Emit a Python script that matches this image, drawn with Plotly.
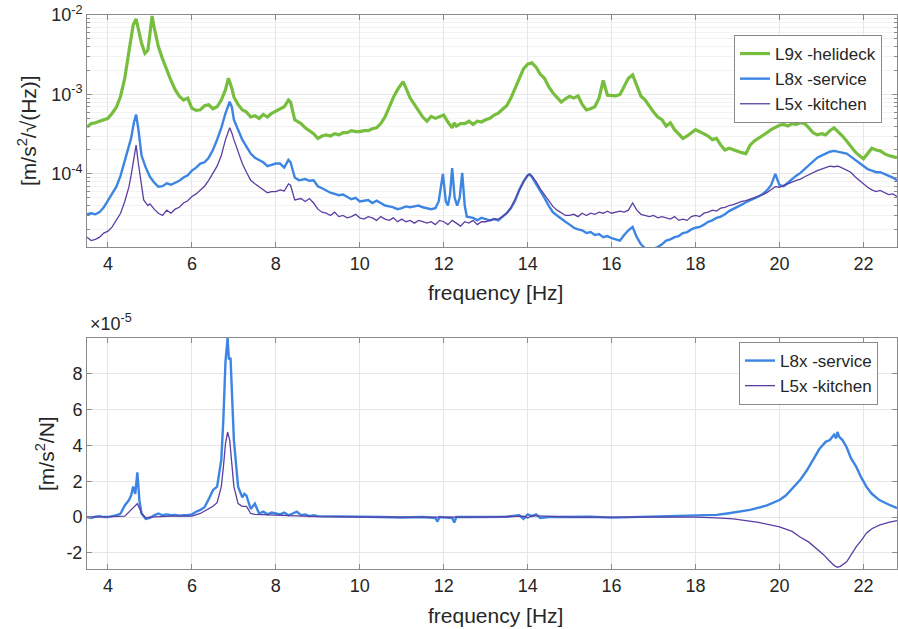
import plotly.graph_objects as go

# ---------------- top panel data (PSD), values in units noted ----------------
f_green = [3.5, 3.6, 3.7, 3.8, 3.9, 4.0, 4.1, 4.2, 4.3, 4.4,
           4.5, 4.55, 4.6, 4.67, 4.72, 4.8, 4.88, 4.95, 5.0, 5.05,
           5.1, 5.2, 5.3, 5.4, 5.5, 5.6, 5.7, 5.8, 5.9, 6.0,
           6.1, 6.2, 6.3, 6.4, 6.5, 6.6, 6.7, 6.8, 6.87, 6.95,
           7.0, 7.1, 7.2, 7.3, 7.4, 7.5, 7.6, 7.7, 7.8, 7.9,
           8.0, 8.1, 8.2, 8.3, 8.35, 8.45, 8.6, 8.7, 8.8, 8.9,
           9.0, 9.1, 9.2, 9.3, 9.4, 9.5, 9.6, 9.7, 9.8, 9.9,
           10.0, 10.1, 10.2, 10.3, 10.4, 10.5, 10.6, 10.7, 10.8, 10.9,
           11.03, 11.1, 11.2, 11.3, 11.4, 11.5, 11.6, 11.7, 11.8, 11.9,
           12.0, 12.1, 12.2, 12.25, 12.3, 12.4, 12.5, 12.6, 12.7, 12.8,
           12.9, 13.0, 13.1, 13.2, 13.3, 13.4, 13.5, 13.6, 13.7, 13.8,
           13.9, 14.0, 14.1, 14.2, 14.3, 14.4, 14.5, 14.6, 14.7, 14.8,
           14.9, 15.0, 15.1, 15.2, 15.3, 15.4, 15.5, 15.6, 15.7, 15.8,
           15.9, 16.0, 16.1, 16.2, 16.3, 16.4, 16.5, 16.6, 16.7, 16.8,
           16.9, 17.0, 17.1, 17.2, 17.3, 17.4, 17.5, 17.6, 17.7, 17.8,
           17.9, 18.0, 18.1, 18.2, 18.3, 18.4, 18.5, 18.6, 18.7, 18.8,
           18.9, 19.0, 19.1, 19.2, 19.3, 19.4, 19.5, 19.6, 19.7, 19.8,
           19.9, 20.0, 20.1, 20.2, 20.3, 20.4, 20.5, 20.6, 20.7, 20.8,
           20.9, 21.0, 21.1, 21.2, 21.3, 21.4, 21.5, 21.6, 21.7, 21.8,
           21.9, 22.0, 22.1, 22.2, 22.3, 22.4, 22.5, 22.6, 22.7, 22.8]
# L9x helideck, units 1e-4
v_green = [3.9, 4.3, 4.4, 4.6, 4.8, 5.0, 5.8, 6.9, 9.5, 16,
           35, 53, 75, 89, 70, 44, 33, 36, 58, 97,
           70, 40, 28, 20, 15, 11.5, 9.5, 8.5, 9.0, 6.7,
           6.3, 6.4, 7.2, 7.4, 6.6, 7.0, 8.5, 11.5, 16, 12,
           9.3, 7.5, 6.4, 6.0, 5.2, 5.4, 5.0, 5.6, 5.2, 5.8,
           6.2, 6.6, 7.0, 8.5, 8.0, 4.8, 4.3, 3.8, 3.5, 3.2,
           2.8, 3.0, 3.1, 3.0, 3.2, 3.1, 3.3, 3.3, 3.5, 3.4,
           3.4, 3.5, 3.5, 3.7, 3.8, 4.3, 5.2, 7.0, 9.2, 11.5,
           14.5, 12, 9.0, 7.5, 6.2, 5.2, 4.6, 5.3, 5.0, 5.2,
           5.5, 4.5, 3.8, 4.4, 4.0, 4.3, 4.3, 4.6, 4.2, 4.6,
           4.5, 4.8, 5.0, 5.5, 5.8, 6.5, 7.2, 9.0, 12, 16,
           21, 24, 25, 22, 18, 16, 12.5, 10.5, 9.0, 8.0,
           8.8, 9.5, 9.0, 9.6, 7.5, 6.4, 6.6, 7.0, 9.0, 15,
           9.8, 9.8, 9.6, 10, 13, 16, 17.6, 13, 9.5, 8.5,
           7.0, 6.0, 5.2, 4.8, 4.0, 4.4, 3.6, 3.2, 2.8, 3.0,
           3.3, 3.6, 3.4, 3.2, 3.0, 2.7, 2.8, 2.3, 2.0, 2.1,
           2.0, 1.9, 1.85, 1.8, 2.3, 2.6, 2.8, 3.0, 3.3, 3.6,
           3.8, 4.1, 4.2, 4.0, 4.3, 4.2, 4.4, 4.3, 3.8, 3.3,
           3.1, 3.2, 3.1, 3.5, 3.8, 3.4, 3.0, 2.6, 2.2, 1.9,
           1.7, 1.55, 1.8, 2.1, 2.0, 1.95, 1.8, 1.7, 1.65, 1.6]

f_blue = [3.5, 3.6, 3.7, 3.8, 3.9, 4.0, 4.1, 4.2, 4.3, 4.4,
          4.5, 4.55, 4.62, 4.67, 4.72, 4.8, 4.9, 5.0, 5.1, 5.2,
          5.3, 5.4, 5.5, 5.6, 5.7, 5.8, 5.9, 6.0, 6.1, 6.2,
          6.3, 6.4, 6.5, 6.6, 6.7, 6.8, 6.9, 6.95, 7.0, 7.1,
          7.2, 7.3, 7.4, 7.5, 7.6, 7.7, 7.8, 7.9, 8.0, 8.1,
          8.2, 8.3, 8.35, 8.45, 8.55, 8.7, 8.8, 8.9, 9.0, 9.1,
          9.2, 9.3, 9.4, 9.5, 9.6, 9.7, 9.8, 9.9, 10.0, 10.1,
          10.2, 10.3, 10.4, 10.5, 10.6, 10.7, 10.8, 10.9, 11.0, 11.1,
          11.2, 11.3, 11.4, 11.5, 11.6, 11.7, 11.8, 11.88, 11.98, 12.05,
          12.1, 12.15, 12.2, 12.26, 12.32, 12.38, 12.44, 12.5, 12.55, 12.7,
          12.8, 12.9, 13.0, 13.1, 13.2, 13.3, 13.4, 13.5, 13.6, 13.7,
          13.8, 13.9, 14.0, 14.05, 14.1, 14.2, 14.3, 14.4, 14.5, 14.6,
          14.7, 14.8, 14.9, 15.0, 15.1, 15.2, 15.3, 15.4, 15.5, 15.6,
          15.7, 15.8, 15.9, 16.0, 16.1, 16.2, 16.3, 16.4, 16.5, 16.6,
          16.7, 16.8, 16.9, 17.0, 17.1, 17.2, 17.3, 17.4, 17.5, 17.6,
          17.7, 17.8, 17.9, 18.0, 18.1, 18.2, 18.3, 18.4, 18.5, 18.6,
          18.7, 18.8, 18.9, 19.0, 19.1, 19.2, 19.3, 19.4, 19.5, 19.6,
          19.7, 19.8, 19.9, 19.95, 20.0, 20.1, 20.2, 20.3, 20.4, 20.5,
          20.6, 20.7, 20.8, 20.9, 21.0, 21.1, 21.2, 21.3, 21.4, 21.5,
          21.6, 21.7, 21.8, 21.9, 22.0, 22.1, 22.2, 22.3, 22.4, 22.5,
          22.6, 22.7, 22.8]
# L8x service, units 1e-5
v_blue = [3.1, 3.2, 3.1, 3.3, 3.8, 4.7, 5.6, 6.9, 9.5, 15,
          22, 28, 45, 56, 38, 17, 12, 9.2, 7.8, 6.9,
          7.0, 7.6, 7.3, 7.8, 8.2, 9.0, 9.6, 11, 12, 13.5,
          14, 16, 20, 27, 38, 58, 81, 70, 48, 36,
          27, 22, 18, 16, 15, 14, 12.5, 13, 13.5, 13.5,
          12, 15, 14, 9.0, 8.3, 8.6, 8.2, 8.3, 7.0, 6.6,
          6.2, 5.8, 5.6, 5.4, 5.5, 5.2, 4.8, 5.0, 4.5, 4.6,
          4.7, 4.3, 4.6, 4.3, 4.0, 3.9, 3.8, 3.6, 3.7, 3.9,
          3.8, 3.9, 4.0, 3.8, 3.7, 3.6, 3.7, 4.5, 10.0, 4.5,
          4.0, 5.5, 11.8, 5.0, 4.0, 5.0, 10.3, 4.0, 2.9, 2.8,
          2.6, 2.8, 2.7, 2.6, 2.7, 2.6, 2.9, 3.2, 3.7, 4.6,
          6.3, 8.0, 9.6, 9.8, 9.2, 7.6, 6.3, 5.0, 4.0, 3.3,
          3.0, 2.7, 2.5, 2.3, 2.1, 2.0, 1.95, 1.8, 1.85, 1.7,
          1.75, 1.6, 1.65, 1.55, 1.5, 1.45, 1.7, 1.95, 2.15, 1.6,
          1.3, 1.15, 1.1, 1.15, 1.2, 1.3, 1.45, 1.5, 1.6, 1.65,
          1.8, 1.85, 2.0, 2.1, 2.15, 2.3, 2.5, 2.6, 2.8, 2.9,
          3.1, 3.4, 3.6, 3.9, 4.1, 4.4, 4.6, 4.9, 5.2, 5.6,
          6.2, 7.2, 10, 8.5, 7.2, 7.0, 7.8, 8.5, 9.5, 10.3,
          11.5, 13, 14.5, 16, 17, 18, 19, 19.5, 19, 18.5,
          18, 16.5, 15, 14, 12.5, 11.5, 11, 10.5, 10.5, 10,
          9.5, 9.0, 8.3]

f_purple = [3.5, 3.6, 3.7, 3.8, 3.9, 4.0, 4.1, 4.2, 4.3, 4.4,
            4.5, 4.55, 4.62, 4.67, 4.72, 4.78, 4.85, 4.95, 5.0, 5.1,
            5.2, 5.3, 5.4, 5.5, 5.6, 5.7, 5.8, 5.9, 6.0, 6.1,
            6.2, 6.3, 6.4, 6.5, 6.6, 6.7, 6.8, 6.9, 6.95, 7.0,
            7.1, 7.2, 7.3, 7.4, 7.5, 7.6, 7.7, 7.8, 7.9, 8.0,
            8.1, 8.2, 8.3, 8.35, 8.45, 8.6, 8.7, 8.8, 8.9, 9.0,
            9.1, 9.2, 9.3, 9.4, 9.5, 9.6, 9.7, 9.8, 9.9, 10.0,
            10.1, 10.2, 10.3, 10.4, 10.5, 10.6, 10.7, 10.8, 10.9, 11.0,
            11.1, 11.2, 11.3, 11.4, 11.5, 11.6, 11.7, 11.8, 11.9, 12.0,
            12.1, 12.2, 12.3, 12.4, 12.5, 12.6, 12.7, 12.8, 12.9, 13.0,
            13.1, 13.2, 13.3, 13.4, 13.5, 13.6, 13.7, 13.8, 13.9, 14.0,
            14.05, 14.1, 14.2, 14.3, 14.4, 14.5, 14.6, 14.7, 14.8, 14.9,
            15.0, 15.1, 15.2, 15.3, 15.4, 15.5, 15.6, 15.7, 15.8, 15.9,
            16.0, 16.1, 16.2, 16.3, 16.4, 16.5, 16.6, 16.7, 16.8, 16.9,
            17.0, 17.1, 17.2, 17.3, 17.4, 17.5, 17.6, 17.7, 17.8, 17.9,
            18.0, 18.1, 18.2, 18.3, 18.4, 18.5, 18.6, 18.7, 18.8, 18.9,
            19.0, 19.1, 19.2, 19.3, 19.4, 19.5, 19.6, 19.7, 19.8, 19.9,
            20.0, 20.1, 20.2, 20.3, 20.4, 20.5, 20.6, 20.7, 20.8, 20.9,
            21.0, 21.1, 21.2, 21.3, 21.4, 21.5, 21.6, 21.7, 21.8, 21.9,
            22.0, 22.1, 22.2, 22.3, 22.4, 22.5, 22.6, 22.7, 22.8]
# L5x kitchen, units 1e-5
v_purple = [1.6, 1.45, 1.5, 1.6, 1.8, 1.9, 2.15, 2.6, 3.2, 4.5,
            6.9, 9.5, 17, 23, 14, 8.0, 4.7, 4.0, 4.2, 3.6,
            3.2, 3.0, 3.5, 3.2, 3.6, 3.8, 4.3, 4.6, 5.2, 5.6,
            6.3, 7.0, 8.3, 10, 12.5, 17, 27, 38, 33, 27,
            19, 13.5, 10.5, 8.3, 7.5, 6.9, 6.3, 5.8, 6.0, 6.0,
            6.3, 6.1, 7.5, 7.2, 4.7, 4.9, 4.5, 4.9, 4.3, 3.6,
            3.3, 3.2, 3.0, 3.3, 2.9, 3.0, 2.8, 2.9, 3.1, 2.8,
            2.7, 2.9, 2.8, 2.6, 2.9, 2.7, 2.6, 2.8, 2.5, 2.7,
            2.5, 2.6, 2.4, 2.6, 2.5, 2.4, 2.5, 2.3, 2.6, 2.5,
            2.3, 2.6, 2.4, 2.2, 2.5, 2.4, 2.6, 2.3, 2.5, 2.5,
            2.6, 2.7, 2.7, 2.9, 3.2, 3.8, 4.8, 6.3, 8.0, 9.6,
            10, 9.4, 8.0, 6.5, 5.5, 4.6, 3.9, 3.5, 3.2, 3.0,
            3.0, 3.1, 2.9, 3.2, 3.0, 3.2, 3.1, 3.3, 3.2, 3.4,
            3.2, 3.3, 3.4, 3.3, 3.5, 4.3, 3.5, 3.1, 3.0, 2.9,
            3.0, 2.8, 2.9, 2.8, 2.7, 2.9, 2.6, 2.7, 2.6, 2.9,
            3.0, 2.9, 3.2, 3.3, 3.5, 3.4, 3.7, 3.8, 4.0, 4.1,
            4.3, 4.5, 4.6, 4.8, 5.0, 5.2, 5.5, 5.8, 6.3, 6.9,
            6.8, 7.2, 7.6, 7.9, 8.3, 8.6, 9.2, 9.8, 10.3, 11,
            11.5, 12, 12.5, 12.3, 12.5, 11.8, 11, 10.5, 9.2, 8.3,
            7.5, 6.8, 6.3, 6.0, 6.2, 5.8, 5.5, 5.6, 5.2]

# ---------------- bottom panel data (FRF), units 1e-5 ----------------
f_blue_b = [3.5, 3.6, 3.7, 3.8, 3.9, 4.0, 4.1, 4.2, 4.3, 4.4,
            4.5, 4.55, 4.6, 4.65, 4.7, 4.72, 4.75, 4.8, 4.9, 5.0,
            5.1, 5.2, 5.3, 5.4, 5.5, 5.6, 5.7, 5.8, 5.9, 6.0,
            6.1, 6.2, 6.3, 6.4, 6.5, 6.6, 6.7, 6.75, 6.8, 6.85,
            6.88, 6.92, 7.0, 7.1, 7.2, 7.25, 7.3, 7.4, 7.5, 7.6,
            7.7, 7.8, 7.9, 8.0, 8.1, 8.2, 8.3, 8.4, 8.5, 8.6,
            8.7, 8.8, 8.9, 9.0, 9.5, 10.0, 10.5, 11.0, 11.5, 11.8,
            11.85, 11.9, 12.2, 12.25, 12.3, 12.6, 13.0, 13.5, 13.8, 13.9,
            14.0, 14.1, 14.2, 14.3, 14.5, 15.0, 15.5, 16.0, 16.5, 17.0,
            17.5, 18.0, 18.5, 18.75, 19.0, 19.3, 19.7, 20.0, 20.15, 20.3,
            20.5, 20.65, 20.8, 20.95, 21.1, 21.2, 21.3, 21.35, 21.38, 21.42,
            21.5, 21.6, 21.7, 21.83, 21.95, 22.07, 22.2, 22.38, 22.6, 22.8]
v_blue_b = [0.0, -0.05, 0.02, 0.05, 0.0, 0.0, 0.05, 0.1, 0.2, 0.65,
            0.95, 1.2, 1.7, 1.3, 2.5, 1.8, 0.9, 0.2, -0.1, -0.05,
            0.1, 0.2, 0.1, 0.15, 0.1, 0.12, 0.08, 0.1, 0.1, 0.15,
            0.3, 0.4, 0.55, 1.0, 1.5, 1.7, 3.2, 5.5, 8.7, 10.0,
            8.8, 8.9, 4.3, 1.7, 1.1, 1.3, 1.2, 0.45, 0.75, 0.2,
            0.3, 0.15, 0.25, 0.2, 0.15, 0.25, 0.1, 0.2, 0.3, 0.1,
            0.15, 0.05, 0.1, 0.05, 0.02, 0.0, 0.0, -0.02, 0.0, -0.05,
            -0.25, 0.0, -0.05, -0.3, 0.0, 0.0, 0.0, 0.02, 0.1, -0.1,
            0.15, 0.05, 0.15, -0.05, 0.0, 0.0, 0.02, -0.03, 0.0, 0.02,
            0.03, 0.05, 0.12, 0.2, 0.28, 0.4, 0.65, 0.95, 1.2, 1.6,
            2.1, 2.6, 3.2, 3.8, 4.2, 4.3, 4.6, 4.4, 4.75, 4.5,
            4.3, 3.9, 3.3, 2.8, 2.2, 1.7, 1.3, 0.95, 0.7, 0.5]

f_purple_b = [3.5, 3.8, 4.1, 4.4, 4.5, 4.6, 4.7, 4.75, 4.8, 4.9,
              5.0, 5.5, 6.0, 6.2, 6.4, 6.5, 6.6, 6.7, 6.75, 6.8,
              6.85, 6.9, 6.95, 7.0, 7.1, 7.2, 7.3, 7.4, 7.5, 8.0,
              8.5, 9.0, 10.0, 11.0, 12.0, 13.0, 13.9, 14.0, 14.1, 15.0,
              16.0, 17.0, 18.0, 18.5, 18.9, 19.5, 20.0, 20.3, 20.48, 20.7,
              20.88, 21.05, 21.17, 21.3, 21.38, 21.45, 21.6, 21.7, 21.83, 21.95,
              22.07, 22.2, 22.38, 22.6, 22.8]
v_purple_b = [0.0, 0.0, 0.02, 0.05, 0.3, 0.55, 0.75, 0.5, 0.2, -0.05,
              0.0, 0.05, 0.05, 0.2, 0.45, 0.6, 0.8, 1.7, 2.8, 4.1,
              4.75, 4.3, 3.0, 1.7, 0.75, 0.6, 0.6, 0.2, 0.15, 0.1,
              0.05, 0.02, 0.0, 0.0, 0.0, 0.0, 0.05, -0.05, 0.08, 0.0,
              0.0, 0.0, 0.0, -0.05, -0.1, -0.3, -0.55, -0.8, -1.1, -1.4,
              -1.75, -2.1, -2.4, -2.7, -2.8, -2.75, -2.5, -2.1, -1.65, -1.3,
              -0.9, -0.65, -0.45, -0.3, -0.2]

x_ticks = [4, 6, 8, 10, 12, 14, 16, 18, 20, 22]
top_ytick_vals = [1e-4, 1e-3, 1e-2]
top_ytick_text = ["10<sup>-4</sup>", "10<sup>-3</sup>", "10<sup>-2</sup>"]
top_minor_vals = [2e-5, 3e-5, 4e-5, 5e-5, 6e-5, 7e-5, 8e-5, 9e-5,
                  2e-4, 3e-4, 4e-4, 5e-4, 6e-4, 7e-4, 8e-4, 9e-4,
                  2e-3, 3e-3, 4e-3, 5e-3, 6e-3, 7e-3, 8e-3, 9e-3]
bot_ytick_vals = [-2, 0, 2, 4, 6, 8]
bot_ytick_text = ["-2", "0", "2", "4", "6", "8"]

GREEN = "#77BE3F"
BLUE = "#3D85E3"
PURPLE = "#5B3EA2"
FONT = "Liberation Sans, Arial, Helvetica, sans-serif"
W, H = 898, 629

fig = go.Figure()
fig.add_trace(go.Scatter(x=f_green, y=[v * 1e-4 for v in v_green], mode="lines",
                         name="L9x -helideck", line=dict(color=GREEN, width=3.2),
                         xaxis="x", yaxis="y", legend="legend"))
fig.add_trace(go.Scatter(x=f_blue, y=[v * 1e-5 for v in v_blue], mode="lines",
                         name="L8x -service", line=dict(color=BLUE, width=2.4),
                         xaxis="x", yaxis="y", legend="legend"))
fig.add_trace(go.Scatter(x=f_purple, y=[v * 1e-5 for v in v_purple], mode="lines",
                         name="L5x -kitchen", line=dict(color=PURPLE, width=1.3),
                         xaxis="x", yaxis="y", legend="legend"))
fig.add_trace(go.Scatter(x=f_blue_b, y=v_blue_b, mode="lines",
                         name="L8x -service", line=dict(color=BLUE, width=2.4),
                         xaxis="x2", yaxis="y2", legend="legend2"))
fig.add_trace(go.Scatter(x=f_purple_b, y=v_purple_b, mode="lines",
                         name="L5x -kitchen", line=dict(color=PURPLE, width=1.3),
                         xaxis="x2", yaxis="y2", legend="legend2"))

ax_common = dict(showline=True, linecolor="#8A8A8A", linewidth=1, mirror="ticks",
                 ticks="inside", ticklen=5, tickcolor="#8A8A8A", automargin=False,
                 showgrid=True, gridcolor="#E6E6E6", gridwidth=1, zeroline=False,
                 tickfont=dict(family=FONT, size=18, color="#262626"))

xdom = [87 / W, 897 / W]
fig.update_layout(
    width=W, height=H,
    margin=dict(l=0, r=0, t=0, b=0, autoexpand=False),
    paper_bgcolor="white", plot_bgcolor="white",
    font=dict(family=FONT, color="#262626"),
    xaxis=dict(domain=xdom, range=[3.5, 22.8], tickvals=x_ticks, anchor="y", **ax_common),
    yaxis=dict(domain=[(H - 247) / H, (H - 15) / H], type="log", range=[-4.92, -2.0],
               tickvals=top_ytick_vals, ticktext=top_ytick_text, anchor="x",
               minor=dict(tickvals=top_minor_vals, showgrid=True, gridcolor="#F2F2F2",
                          ticks="inside", ticklen=3, tickcolor="#8A8A8A"),
               **ax_common),
    xaxis2=dict(domain=xdom, range=[3.5, 22.8], tickvals=x_ticks, anchor="y2", **ax_common),
    yaxis2=dict(domain=[(H - 569) / H, (H - 338) / H], range=[-2.9, 10.0],
                tickvals=bot_ytick_vals, ticktext=bot_ytick_text, anchor="x2", **ax_common),
    legend=dict(x=882 / W, xanchor="right", y=(H - 35) / H, yanchor="top",
                bgcolor="white", bordercolor="#8A8A8A", borderwidth=1,
                font=dict(family=FONT, size=17, color="#262626"),
                tracegroupgap=0, itemwidth=30),
    legend2=dict(x=878 / W, xanchor="right", y=(H - 342) / H, yanchor="top",
                 bgcolor="white", bordercolor="#8A8A8A", borderwidth=1,
                 font=dict(family=FONT, size=17, color="#262626"),
                 tracegroupgap=0, itemwidth=30),
    showlegend=True,
)

def note(text, x, y, size, angle=0, xanchor="center"):
    return dict(text=text, x=x / W, y=(H - y) / H, xref="paper", yref="paper",
                xanchor=xanchor, yanchor="middle", textangle=angle, showarrow=False,
                font=dict(family=FONT, size=size, color="#262626"))

annots = [
    note("frequency [Hz]", 496, 292, 21),
    note("frequency [Hz]", 496, 615, 21),
    note("[m/s<sup>2</sup>/√(Hz)]", 27, 131, 21, angle=-90),
    note("[m/s<sup>2</sup>/N]", 45, 454, 21, angle=-90),
    note("×10<sup>-5</sup>", 88, 322, 18, xanchor="left"),
]
fig.update_layout(annotations=annots)

fig.write_html("out.html", config={"displayModeBar": False},
               post_script="document.body.style.margin='0px';document.body.style.overflow='hidden';")
